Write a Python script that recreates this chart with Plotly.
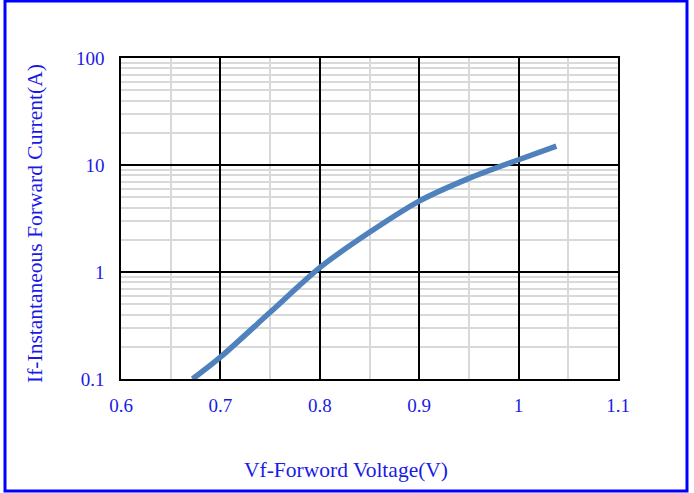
import plotly.graph_objects as go

voltage = [0.672, 0.7, 0.75, 0.8, 0.85, 0.9, 0.95, 1.0, 1.038]
current = [0.1, 0.16, 0.42, 1.1, 2.35, 4.6, 7.5, 11.2, 15.0]

x_tick_vals = [0.6, 0.7, 0.8, 0.9, 1.0, 1.1]
x_tick_text = ["0.6", "0.7", "0.8", "0.9", "1", "1.1"]
y_tick_vals = [0.1, 1, 10, 100]
y_tick_text = ["0.1", "1", "10", "100"]
y_minor_vals = [m * d for d in (0.1, 1, 10) for m in range(2, 10)]
x_title = "Vf-Forword Voltage(V)"
y_title = "If-Instantaneous Forward Current(A)"

W, H = 694, 493
L, R, T, B = 121, 76, 58, 114
pw, ph = W - L - R, H - T - B

def px_x(p):
    return (p - L) / pw

def px_y(p):
    return (H - B - p) / ph

font_blue = "#1a1ae6"
fig = go.Figure()
fig.add_trace(go.Scatter(
    x=voltage, y=current, mode="lines",
    line=dict(color="#4f81bd", width=5.5, shape="spline", smoothing=0.8),
    showlegend=False, hoverinfo="skip"))

fig.update_layout(
    width=W, height=H,
    margin=dict(l=L, r=R, t=T, b=B),
    paper_bgcolor="white", plot_bgcolor="white",
    font=dict(family="Liberation Serif, Times New Roman, serif", color=font_blue, size=19),
    xaxis=dict(
        range=[0.6, 1.1], tickvals=x_tick_vals, ticktext=x_tick_text,
        showgrid=True, gridcolor="black", gridwidth=1.5,
        minor=dict(dtick=0.05, tick0=0.6, showgrid=True, gridcolor="#d9d9d9", gridwidth=1.5),
        showline=True, linecolor="black", linewidth=1.5, mirror=True,
        zeroline=False, ticks="", ticklabelstandoff=8,
        tickfont=dict(size=19, color=font_blue),
    ),
    yaxis=dict(
        type="log", range=[-1, 2], tickvals=y_tick_vals, ticktext=y_tick_text,
        showgrid=True, gridcolor="black", gridwidth=1.5,
        minor=dict(tickvals=y_minor_vals, showgrid=True, gridcolor="#d9d9d9", gridwidth=1.5),
        showline=True, linecolor="black", linewidth=1.5, mirror=True,
        zeroline=False, ticks="", ticklabelstandoff=11,
        tickfont=dict(size=19, color=font_blue),
    ),
)

fig.add_annotation(text=x_title, xref="paper", yref="paper",
                   x=px_x(346), y=px_y(470), xanchor="center", yanchor="middle",
                   showarrow=False, font=dict(size=21.5, color=font_blue))
fig.add_annotation(text=y_title, xref="paper", yref="paper", textangle=-90,
                   x=px_x(35), y=px_y(224), xanchor="center", yanchor="middle",
                   showarrow=False, font=dict(size=21.5, color=font_blue))

# blue border around the whole picture
fig.add_shape(type="rect", xref="paper", yref="paper",
              x0=px_x(5), x1=px_x(687), y0=px_y(491), y1=px_y(1),
              line=dict(color="#0000ff", width=3), fillcolor="rgba(0,0,0,0)",
              layer="above")

fig.write_html("out.html", config={"displayModeBar": False},
               post_script="document.body.style.margin='0';document.body.style.overflow='hidden';")
